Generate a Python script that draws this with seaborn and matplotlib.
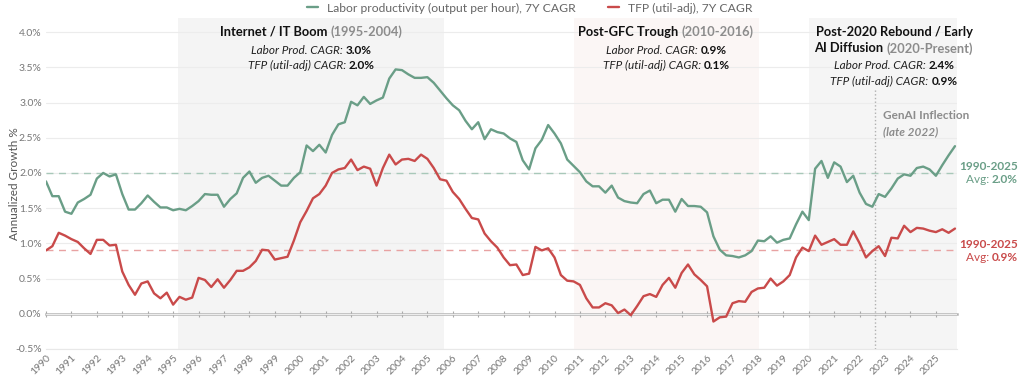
import numpy as np
import pandas as pd
import matplotlib
matplotlib.use('Agg')
import matplotlib.pyplot as plt
import seaborn as sns

# quarterly 7Y CAGR values, 1990Q1 .. 2025Q4
labor_prod = [
    1.88, 1.67, 1.67, 1.45,  1.42, 1.58, 1.63, 1.69,  1.92, 2.00, 1.95, 1.98,
    1.70, 1.48, 1.48, 1.57,  1.68, 1.59, 1.51, 1.51,  1.47, 1.49, 1.47, 1.53,
    1.60, 1.70, 1.69, 1.69,  1.52, 1.63, 1.71, 1.93,  2.02, 1.86, 1.93, 1.96,
    1.89, 1.82, 1.82, 1.93,  2.01, 2.39, 2.31, 2.40,  2.29, 2.54, 2.69, 2.72,
    3.01, 2.96, 3.08, 2.98,  3.03, 3.07, 3.34, 3.47,  3.46, 3.40, 3.35, 3.35,
    3.36, 3.28, 3.17, 3.06,  2.96, 2.89, 2.74, 2.62,  2.72, 2.48, 2.62, 2.58,
    2.56, 2.49, 2.44, 2.18,  2.05, 2.35, 2.47, 2.68,  2.56, 2.42, 2.19, 2.10,
    2.01, 1.88, 1.81, 1.81,  1.72, 1.82, 1.65, 1.60,  1.58, 1.57, 1.70, 1.75,
    1.57, 1.62, 1.62, 1.45,  1.63, 1.53, 1.53, 1.52,  1.44, 1.10, 0.91, 0.83,
    0.82, 0.80, 0.83, 0.89,  1.04, 1.03, 1.10, 1.01,  1.05, 1.07, 1.27, 1.45,
    1.33, 2.06, 2.17, 1.93,  2.15, 2.09, 1.87, 1.96,  1.72, 1.56, 1.52, 1.70,
    1.66, 1.78, 1.92, 1.98,  1.96, 2.07, 2.09, 2.05,  1.96, 2.11, 2.25, 2.38,
]
tfp_util = [
    0.90, 0.96, 1.15, 1.11,  1.06, 1.02, 0.93, 0.85,  1.05, 1.05, 0.97, 0.98,
    0.60, 0.41, 0.27, 0.43,  0.46, 0.29, 0.22, 0.30,  0.13, 0.24, 0.20, 0.23,
    0.51, 0.48, 0.38, 0.49,  0.37, 0.48, 0.61, 0.61,  0.66, 0.75, 0.91, 0.90,
    0.77, 0.79, 0.81, 1.04,  1.30, 1.46, 1.64, 1.70,  1.82, 2.00, 2.05, 2.07,
    2.19, 2.04, 2.09, 2.06,  1.82, 2.07, 2.26, 2.12,  2.19, 2.20, 2.17, 2.26,
    2.20, 2.07, 1.91, 1.89,  1.73, 1.63, 1.49, 1.36,  1.34, 1.14, 1.03, 0.94,
    0.80, 0.69, 0.70, 0.55,  0.57, 0.95, 0.90, 0.93,  0.80, 0.55, 0.47, 0.46,
    0.41, 0.22, 0.09, 0.09,  0.15, 0.12, 0.01, 0.06, -0.02, 0.11, 0.25, 0.28,
    0.24, 0.41, 0.51, 0.37,  0.58, 0.70, 0.56, 0.48,  0.39, -0.11, -0.05, -0.04,
    0.15, 0.18, 0.17, 0.31,  0.36, 0.37, 0.50, 0.40,  0.46, 0.55, 0.80, 0.94,
    0.89, 1.11, 0.98, 1.02,  1.06, 0.98, 0.98, 1.17,  1.00, 0.80, 0.89, 0.96,
    0.82, 1.08, 1.07, 1.25,  1.16, 1.22, 1.21, 1.18,  1.16, 1.20, 1.15, 1.21,
]
quarters = 1990 + np.arange(len(labor_prod)) / 4
year_ticks = list(range(1990, 2026))

labor_avg = 2.0
tfp_avg = 0.9

# eras: (start, end, title lines, years, labor cagr, tfp cagr)
eras = [
    (1995.21, 2005.64, ['Internet / IT Boom '], '(1995-2004)', '3.0%', '2.0%'),
    (2010.75, 2018.03, ['Post-GFC Trough '], '(2010-2016)', '0.9%', '0.1%'),
    (2020.0, 2025.83, ['Post-2020 Rebound / Early', 'AI Diffusion '], '(2020-Present)', '2.4%', '0.9%'),
]
genai_year = 2022.62

GREEN = '#6a9e87'
RED = '#c94a4a'
GREY_TXT = '#8c8c8c'

sns.set_style('white')
plt.rcParams['font.family'] = ['Lato', 'DejaVu Sans']

fig = plt.figure(figsize=(10.24, 3.8), dpi=100)
ax = fig.add_axes([46 / 1024, 1 - 349 / 380, 911 / 1024, 331 / 380])
ax.set_xlim(1990, 2025.83)
ax.set_ylim(-0.5, 4.2)

# era shading
span_colors = ['#f4f4f4', '#fbf6f5', '#f5f5f5']
for (x0, x1, *_), c in zip(eras, span_colors):
    ax.axvspan(x0, x1, color=c, lw=0, zorder=0)

for v in np.arange(-0.5, 4.01, 0.5):
    ax.axhline(v, color='#ececec', lw=0.8, zorder=0.5)

ax.axhline(labor_avg, color='#a8c8b9', lw=1.0, ls=(0, (5, 4)), zorder=1)
ax.axhline(tfp_avg, color='#e8a2a2', lw=1.0, ls=(0, (5, 4)), zorder=1)
ax.axvline(genai_year, ymax=0.79, color='#b0b0b0', lw=1.0, ls=':', zorder=1)

df = pd.DataFrame({'quarter': quarters, 'labor': labor_prod, 'tfp': tfp_util})
sns.lineplot(data=df, x='quarter', y='labor', color=GREEN, lw=1.7, ax=ax,
             label='Labor productivity (output per hour), 7Y CAGR', zorder=3)
sns.lineplot(data=df, x='quarter', y='tfp', color=RED, lw=1.7, ax=ax,
             label='TFP (util-adj), 7Y CAGR', zorder=3)

# zero axis with year ticks
zero_ax = ax.secondary_xaxis(0.5 / 4.7)
zero_ax.set_xticks(year_ticks)
zero_ax.tick_params(direction='inout', length=4, width=0.8, color='#aaaaaa', labelbottom=False)
zero_ax.spines['bottom'].set_color('#b3b3b3')
zero_ax.spines['bottom'].set_linewidth(1.8)

ax.set_xticks(year_ticks)
ax.set_xticklabels([str(y) for y in year_ticks], rotation=45, ha='right',
                   rotation_mode='anchor', fontsize=7.5, color='#777777')
ax.tick_params(axis='x', length=0, pad=3)
ax.set_yticks(np.arange(-0.5, 4.01, 0.5))
ax.set_yticklabels([f'{v:.1f}%' for v in np.arange(-0.5, 4.01, 0.5)], fontsize=7.5, color='#777777')
ax.tick_params(axis='y', length=0, pad=3)
ax.set_xlabel('')
ax.set_ylabel('Annualized Growth %', fontsize=8.5, color='#555555')
ax.yaxis.set_label_coords(-0.029, 0.5)
for s in ['top', 'right', 'left']:
    ax.spines[s].set_visible(False)
ax.spines['bottom'].set_color('#e8e8e8')

leg = ax.legend(loc='center', bbox_to_anchor=(0.531, (349 - 8) / 331), ncol=2, frameon=False,
                fontsize=8.7, handlelength=0.9, columnspacing=2.7, handletextpad=0.7)
for t in leg.get_texts():
    t.set_color('#666666')

groups = []


def rich(x, y, parts, coords, size, align='center'):
    arts = []
    prev = None
    for s, kw in parts:
        if prev is None:
            a = ax.annotate(s, xy=(x, y), xycoords=coords, xytext=(0, 0), textcoords='offset pixels',
                            ha='left', va='center', fontsize=size, annotation_clip=False, **kw)
        else:
            a = ax.annotate(s, xy=(1, 0.5), xycoords=prev, ha='left', va='center',
                            fontsize=size, annotation_clip=False, **kw)
        arts.append(a)
        prev = a
    groups.append((arts, align))


bt = ax.get_xaxis_transform()
B = dict(fontweight='bold', color='#111111')
I = dict(fontstyle='italic', color='#222222')
for x0, x1, title, yrs, lab, tfp in eras:
    if len(title) == 1:
        cx = (x0 + x1) / 2
        ys = [0.958, 0.903, 0.856]
        rich(cx, ys[0], [(title[0], B), (yrs, dict(fontweight='bold', color=GREY_TXT))], bt, 9.3)
    else:
        cx = 2023.35
        ys = [0.908, 0.855, 0.807]
        rich(cx, 0.958, [(title[0], B)], bt, 9.3)
        rich(cx, ys[0], [(title[1], B), (yrs, dict(fontweight='bold', color=GREY_TXT))], bt, 9.3)
    rich(cx, ys[1], [('Labor Prod. CAGR: ', I), (lab, B)], bt, 8.5)
    rich(cx, ys[2], [('TFP (util-adj) CAGR: ', I), (tfp, B)], bt, 8.5)

ax.text(genai_year + 0.3, 0.705, 'GenAI Inflection', transform=bt, fontsize=8.5,
        fontweight='bold', color=GREY_TXT, va='center', ha='left')
ax.text(genai_year + 0.3, 0.657, '(late 2022)', transform=bt, fontsize=8.5,
        fontstyle='italic', fontweight='bold', color=GREY_TXT, va='center', ha='left')

rt = ax.get_yaxis_transform()
for avg, c in [(labor_avg, GREEN), (tfp_avg, RED)]:
    rich(1.067, avg + 0.09, [('1990-2025', dict(fontweight='bold', color=c))], rt, 8.5, 'right')
    rich(1.067, avg - 0.10, [('Avg: ', dict(color=c)), (f'{avg:.1f}%', dict(fontweight='bold', color=c))],
         rt, 8.5, 'right')

fig.canvas.draw()
for arts, align in groups:
    w = arts[-1].get_window_extent().x1 - arts[0].get_window_extent().x0
    arts[0].xyann = (-w / 2 if align == 'center' else -w, 0)

fig.savefig('out.png', dpi=100)
